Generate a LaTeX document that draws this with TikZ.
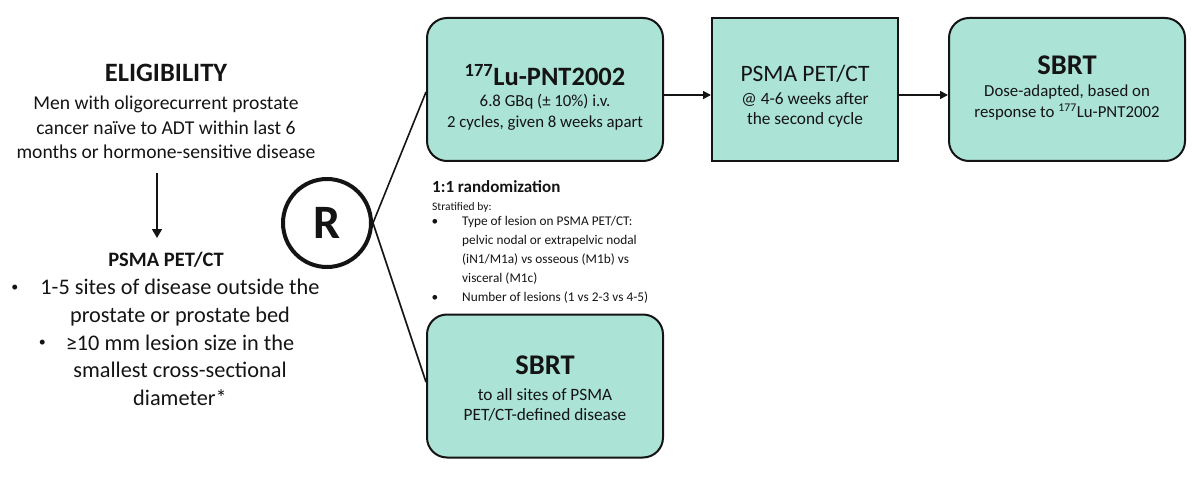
\documentclass[tikz,border=0pt]{standalone}
\usepackage{fontspec}
\setmainfont{Carlito}
\usetikzlibrary{arrows.meta}
\definecolor{boxfill}{RGB}{171,227,214}
\definecolor{ink}{RGB}{20,20,20}
\newcommand{\smbul}[1]{\llap{\raisebox{3.5pt}{\fontsize{14}{14}\selectfont\textbullet}\hspace{#1}}}
\begin{document}
\begin{tikzpicture}[x=1pt,y=-1pt,
  rbox/.style={draw=ink, line width=2pt, fill=boxfill, rounded corners=20pt, minimum width=236pt, minimum height=143pt, inner sep=0pt},
  sbox/.style={draw=ink, line width=2pt, fill=boxfill, minimum width=186pt, minimum height=143pt, inner sep=0pt},
  conn/.style={line width=1.6pt, draw=ink},
  arr/.style={conn, -{Triangle[length=8pt,width=8pt]}},
  txt/.style={inner sep=0pt, align=center, text=ink},
  fs/.style 2 args={font=\fontsize{#1}{#2}\selectfont}]
\useasboundingbox (0,0) rectangle (1193,481);

% left column
\node[txt, font=\fontsize{26.5}{30}\selectfont\bfseries] (eligt) at (166,73) {ELIGIBILITY};
\node[txt, fs={19.6}{24.5}, anchor=north] (eligb) at (166,96) {Men with oligorecurrent prostate\\cancer naïve to ADT within last 6\\months or hormone-sensitive disease};
\coordinate (dtop) at (157,173);
\coordinate (dbot) at (157,238);
\draw[conn, -{Triangle[length=9pt,width=10pt]}] (dtop) -- (dbot);
\node[txt, font=\fontsize{20.5}{24}\selectfont\bfseries] (pett0) at (166,260) {PSMA PET/CT};
\node[txt, fs={22.3}{27.7}, anchor=north] (crit) at (180,279) {\smbul{22pt}1-5 sites of disease outside the\\prostate or prostate bed\\\smbul{20pt}≥10 mm lesion size in the\\smallest cross-sectional\\diameter*};

% randomisation
\node[draw=ink, line width=4pt, circle, minimum size=88pt, inner sep=0pt, font=\fontsize{48}{50}\selectfont\bfseries, text=ink] (R) at (327,223) {R};

% boxes
\node[rbox] (lu) at (545,89.5) {};
\node[sbox] (pet) at (805,89.5) {};
\node[rbox] (sbrt1) at (1067,89.5) {};
\node[rbox] (sbrt2) at (545,386) {};

\node[txt, font=\fontsize{26.5}{30}\selectfont\bfseries] (lut) at (545,75) {\textsuperscript{177}Lu-PNT2002};
\node[txt, fs={16.8}{21}] (lub) at (545,112.5) {6.8 GBq (± 10\%) i.v.\\2 cycles, given 8 weeks apart};

\node[txt, fs={23.5}{27}] (pett) at (805,74) {PSMA PET/CT};
\node[txt, fs={17.3}{20}] (petb) at (805,110) {@ 4-6 weeks after\\the second cycle};

\node[txt, font=\fontsize{28.5}{32}\selectfont\bfseries] (s1t) at (1067,65) {SBRT};
\node[txt, fs={16.8}{21}] (s1b) at (1067,102.5) {Dose-adapted, based on\\response to \textsuperscript{177}Lu-PNT2002};

\node[txt, font=\fontsize{28.5}{32}\selectfont\bfseries] (s2t) at (545,365) {SBRT};
\node[txt, fs={17.3}{20}] (s2b) at (545,405) {to all sites of PSMA\\PET/CT-defined disease};

\node[txt, anchor=west, font=\fontsize{17}{20}\selectfont\bfseries] (rnd) at (432,187) {1:1 randomization};
\node[txt, anchor=west, fs={11.5}{14}] (strat) at (432,207) {Stratified by:};
\node[txt, anchor=north west, align=left, fs={13.3}{19}] (strl) at (462,216) {\llap{\textbullet\hspace{24pt}}Type of lesion on PSMA PET/CT:\\pelvic nodal or extrapelvic nodal\\(iN1/M1a) vs osseous (M1b) vs\\visceral (M1c)\\\llap{\textbullet\hspace{24pt}}Number of lesions (1 vs 2-3 vs 4-5)};

% connectors
\draw[conn] (R.east) -- ([yshift=-2.5pt]lu.west);
\draw[conn] (R.east) -- ([yshift=4pt]sbrt2.west);
\draw[arr] ([yshift=-5.5pt]lu.east) -- ([yshift=-5.5pt]pet.west);
\draw[arr] ([yshift=-5.5pt]pet.east) -- ([yshift=-5.5pt]sbrt1.west);
\end{tikzpicture}
\end{document}
